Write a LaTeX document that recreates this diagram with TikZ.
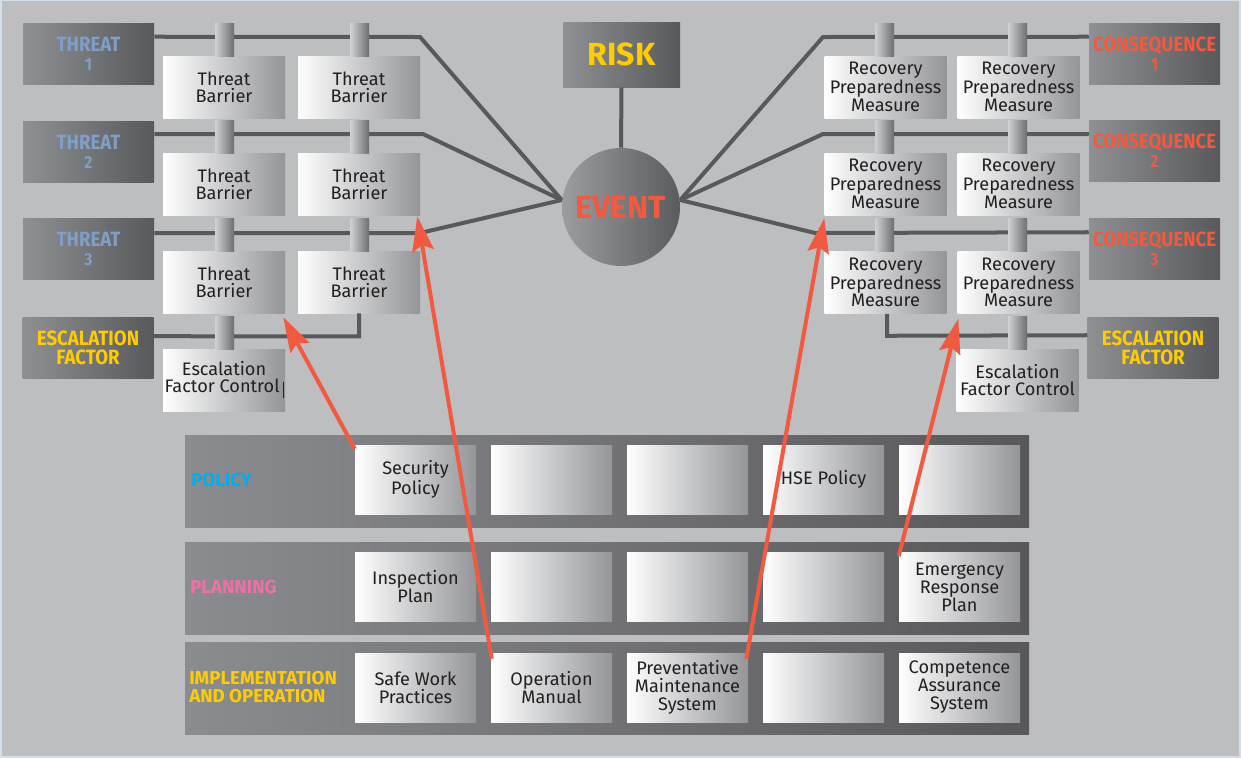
\documentclass[tikz,border=0pt]{standalone}
\usepackage{fontspec}
\setmainfont{Fira Sans}
\newfontfamily\hdfont{Fira Sans}[FakeStretch=0.9]
\usetikzlibrary{arrows.meta,calc}
\definecolor{bgC}{HTML}{BDBEC0}
\definecolor{borderC}{HTML}{D3DFE8}
\definecolor{lineC}{HTML}{58595B}
\definecolor{hdL}{HTML}{8F9093}
\definecolor{hdR}{HTML}{58595B}
\definecolor{cellR}{HTML}{939598}
\definecolor{pilL}{HTML}{D0D1D3}
\definecolor{pilR}{HTML}{6D6E71}
\definecolor{pnL}{HTML}{8B8C8F}
\definecolor{pnR}{HTML}{58585B}
\definecolor{evLc}{HTML}{9C9DA0}
\definecolor{evRc}{HTML}{5A5B5D}
\definecolor{txt}{HTML}{231F20}
\definecolor{threatC}{HTML}{7F9FC6}
\definecolor{consC}{HTML}{F15A3E}
\definecolor{yelC}{HTML}{FFCC00}
\definecolor{polC}{HTML}{00AEEF}
\definecolor{planC}{HTML}{EF6FA7}
\definecolor{redA}{HTML}{F15A40}
\begin{document}
\begin{tikzpicture}[x=0.75pt,y=-0.75pt,
  hdr/.style={rectangle,inner sep=0pt,minimum width=98.25pt,minimum height=45.75pt,left color=hdL,right color=hdR,align=center,font=\hdfont\bfseries\fontsize{15.5}{14.25}\selectfont},
  tbar/.style={rectangle,inner sep=0pt,minimum width=91.5pt,minimum height=46.5pt,left color=white,right color=cellR,text=txt,align=center,font=\fontsize{13.6}{12.75}\selectfont},
  rpm/.style={tbar,font=\fontsize{13.6}{12}\selectfont},
  pillar/.style={rectangle,inner sep=0pt,minimum width=14.25pt,minimum height=24.75pt,left color=pilL,right color=pilR},
  panel/.style={rectangle,inner sep=0pt,minimum width=633pt,minimum height=69pt,left color=pnL,right color=pnR},
  cell/.style={rectangle,inner sep=0pt,minimum width=90.75pt,minimum height=51.75pt,left color=white,right color=cellR,text=txt,align=center,font=\fontsize{13.6}{13.5}\selectfont},
  plabel/.style={anchor=west,inner sep=0pt,align=left,font=\bfseries\fontsize{14}{13.5}\selectfont},
  ln/.style={draw=lineC,line width=3pt},
  redarr/.style={draw=redA,line width=3pt,-{Stealth[length=26pt,width=16pt,inset=4pt]}},
]
% background
\fill[borderC] (0,0) rectangle (1241,758);
\fill[bgC] (2,1) rectangle (1239,756);
\useasboundingbox (0,0) rectangle (1241,758);

% left headers
\node[hdr,text=threatC] (t1) at (88.5,53.5) {THREAT\\{\fontsize{13}{13}\selectfont 1}};
\node[hdr,text=threatC] (t2) at (88.5,152) {THREAT\\{\fontsize{13}{13}\selectfont 2}};
\node[hdr,text=threatC] (t3) at (88.5,249) {THREAT\\{\fontsize{13}{13}\selectfont 3}};
\node[hdr,text=yelC] (escL) at (88,348) {ESCALATION\\FACTOR};

% threat barriers
\node[tbar] (tb11) at (224,87) {Threat\\Barrier};
\node[tbar] (tb12) at (359,87) {Threat\\Barrier};
\node[tbar] (tb21) at (224,184) {Threat\\Barrier};
\node[tbar] (tb22) at (359,184) {Threat\\Barrier};
\node[tbar] (tb31) at (224,282) {Threat\\Barrier};
\node[tbar] (tb32) at (359,282) {Threat\\Barrier};
\node[tbar] (efcL) at (224,380) {Escalation\\Factor Control\,\rule[-4pt]{0.6pt}{12.5pt}};

% risk and event
\node[rectangle,inner sep=0pt,minimum width=87.75pt,minimum height=48.75pt,left color=hdL,right color=hdR,text=yelC,font=\bfseries\fontsize{24}{24}\selectfont] (risk) at (621.5,54.5) {RISK};
\node[circle,inner sep=0pt,minimum size=88.5pt,left color=evLc,right color=evRc,text=consC,font=\bfseries\fontsize{24}{24}\selectfont] (ev) at (621,207) {EVENT};
\coordinate (evL) at ($(ev.west)+(0,-7)$);
\coordinate (evR) at ($(ev.east)+(0,-7)$);

% right side
\node[rpm] (r11) at (885.5,87) {Recovery\\Preparedness\\Measure};
\node[rpm] (r12) at (1018.5,87) {Recovery\\Preparedness\\Measure};
\node[rpm] (r21) at (885.5,184) {Recovery\\Preparedness\\Measure};
\node[rpm] (r22) at (1018.5,184) {Recovery\\Preparedness\\Measure};
\node[rpm] (r31) at (885.5,282.5) {Recovery\\Preparedness\\Measure};
\node[rpm] (r32) at (1018.5,282.5) {Recovery\\Preparedness\\Measure};
\node[tbar] (efcR) at (1017.5,380) {Escalation\\Factor Control};

\node[hdr,text=consC] (c1) at (1154.5,53.5) {CONSEQUENCE\\{\fontsize{13}{13}\selectfont 1}};
\node[hdr,text=consC] (c2) at (1154.5,151) {CONSEQUENCE\\{\fontsize{13}{13}\selectfont 2}};
\node[hdr,text=consC] (c3) at (1154.5,249) {CONSEQUENCE\\{\fontsize{13}{13}\selectfont 3}};
\node[hdr,text=yelC] (escR) at (1153,348) {ESCALATION\\FACTOR};

% bend points
\coordinate (bl1) at (420,37);
\coordinate (bl2) at (423,134);
\coordinate (bl3) at (420,233);
\coordinate (br1) at (823,37);
\coordinate (br2) at (823,134);
\coordinate (br3) at (815,233);

% connector lines
\draw[ln] ($(t1.north east)+(0,14)$) -- (bl1) -- (evL);
\draw[ln] ($(t2.north east)+(0,13)$) -- (bl2) -- (evL);
\draw[ln] ($(t3.north east)+(0,15)$) -- (bl3) -- (evL);
\draw[ln] ($(escL.north east)+(0,19)$) -- ($(tb32.south)+(0,23)$) -- (tb32.south);
\draw[ln] (evR) -- (br1) -- ($(c1.north west)+(0,14)$);
\draw[ln] (evR) -- (br2) -- ($(c2.north west)+(0,14)$);
\draw[ln] (evR) -- (br3) -- ($(c3.north west)+(0,14)$);
\draw[ln] ($(escR.north west)+(0,18)$) -- ($(r31.south)+(1.5,22)$) -- ($(r31.south)+(1.5,0)$);
\draw[ln] (risk.south) -- (ev.north);

% pillars
\foreach \px in {224.5,359.5,884.5,1017.5}{
  \foreach \py in {39.5,137,234.5}{
    \node[pillar] at (\px,\py) {};
  }
}
\node[pillar] (pl1) at (224.5,332.5) {};
\node[pillar] (pl2) at (1017.5,332.5) {};

% panels
\node[panel] (pPol) at (607,481) {};
\node[panel] (pPlan) at (607,588.5) {};
\node[panel] (pImp) at (607,688.5) {};
\node[plabel,text=polC] (lPol) at (191,480) {POLICY};
\node[plabel,text=planC] (lPlan) at (190,587) {PLANNING};
\node[plabel,text=yelC] (lImp) at (189,687.5) {IMPLEMENTATION\\AND OPERATION};

% cells
\node[cell] (p1) at (415.5,479.5) {Security\\Policy};
\node[cell] (p2) at (551.5,479.5) {};
\node[cell] (p3) at (687.5,479.5) {};
\node[cell] (p4) at (823.5,479.5) {HSE Policy};
\node[cell] (p5) at (959.5,479.5) {};
\node[cell] (q1) at (415.5,587) {Inspection\\Plan};
\node[cell] (q2) at (551.5,587) {};
\node[cell] (q3) at (687.5,587) {};
\node[cell] (q4) at (823.5,587) {};
\node[cell] (q5) at (959.5,587) {Emergency\\Response\\Plan};
\node[cell] (m1) at (415.5,687.5) {Safe Work\\Practices};
\node[cell] (m2) at (551.5,687.5) {Operation\\Manual};
\node[cell] (m3) at (687.5,687.5) {Preventative\\Maintenance\\System};
\node[cell] (m4) at (823.5,687.5) {};
\node[cell] (m5) at (959.5,687.5) {Competence\\Assurance\\System};

% red arrows
\draw[redarr] ($(p1.north west)+(0,4)$) -- ($(tb31.south east)+(-2,4)$);
\draw[redarr] ($(m2.north west)+(1,6)$) -- ($(tb22.south east)+(-3,1)$);
\draw[redarr] ($(m3.north east)+(-2,6)$) -- ($(r21.south west)+(0,3)$);
\draw[redarr] ($(q5.north west)+(0,4)$) -- ($(r32.south west)+(1,5)$);
\end{tikzpicture}
\end{document}
